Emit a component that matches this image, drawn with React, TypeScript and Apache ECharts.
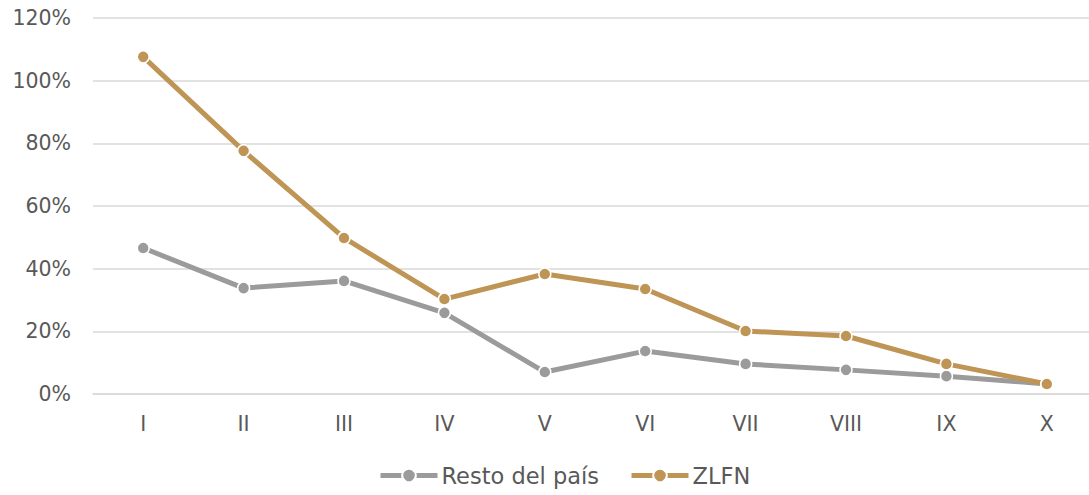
import React, { useEffect, useRef } from "react";
import * as echarts from "echarts";

const categories = ["I", "II", "III", "IV", "V", "VI", "VII", "VIII", "IX", "X"];
const restoValues = [46.6, 33.8, 36.1, 25.9, 7.0, 13.7, 9.6, 7.7, 5.7, 3.2];
const zlfnValues = [107.6, 77.6, 49.8, 30.3, 38.3, 33.5, 20.1, 18.5, 9.6, 3.2];
const seriesNames = ["Resto del país", "ZLFN"];

const FONT = "'DejaVu Sans', sans-serif";
const TEXT = "#595959";

export default function App() {
  const ref = useRef<HTMLDivElement>(null);
  useEffect(() => {
    if (!ref.current) return;
    const chart = echarts.init(ref.current, null, { renderer: "svg" });
    const mk = (name: string, data: number[], color: string) => ({
      name,
      type: "line",
      data,
      symbol: "circle",
      symbolSize: 12,
      lineStyle: { width: 5, color },
      itemStyle: { color, borderColor: "#fff", borderWidth: 1.5 },
    });
    chart.setOption({
      animation: false,
      textStyle: { fontFamily: FONT },
      grid: { left: 93, right: 0, top: 18, bottom: 101 },
      legend: {
        bottom: 3,
        left: 373,
        itemWidth: 57,
        itemHeight: 17,
        itemGap: 30,
        lineStyle: { width: 5 },
        textStyle: { fontSize: 22.5, color: TEXT, fontFamily: FONT, padding: [0, 0, 0, -1] },
        data: seriesNames,
      },
      xAxis: {
        type: "category",
        data: categories,
        boundaryGap: true,
        axisLine: { show: true, lineStyle: { color: "#d9d9d9", width: 1.5 } },
        axisTick: { show: false },
        axisLabel: { fontSize: 20.5, color: TEXT, margin: 19, fontFamily: FONT },
      },
      yAxis: {
        type: "value",
        min: 0,
        max: 120,
        interval: 20,
        axisLine: { show: false },
        axisTick: { show: false },
        splitLine: { lineStyle: { color: "#d9d9d9", width: 1.5 } },
        axisLabel: {
          fontSize: 20.5,
          color: TEXT,
          margin: 22,
          fontFamily: FONT,
          formatter: (v: number) => v + "%",
        },
      },
      series: [
        mk(seriesNames[0], restoValues, "#9b9b9b"),
        mk(seriesNames[1], zlfnValues, "#bf9556"),
      ],
    });
    return () => chart.dispose();
  }, []);
  return (
    <div style={{ position: "absolute", left: 0, top: 0, width: 1089, height: 495, overflow: "hidden" }}>
      <div ref={ref} style={{ width: 1097, height: 495 }} />
    </div>
  );
}
